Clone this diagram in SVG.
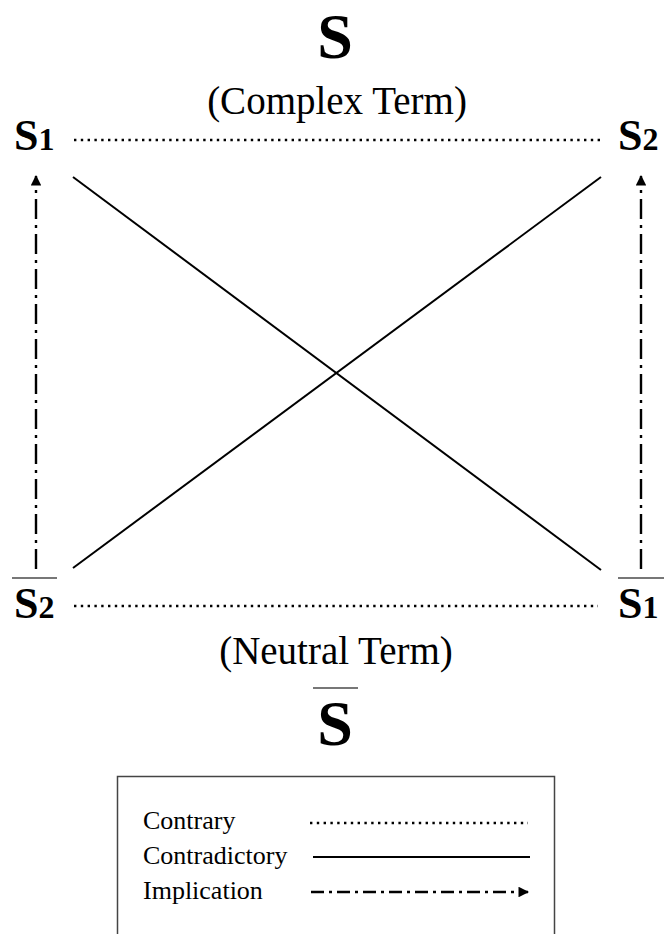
<svg xmlns="http://www.w3.org/2000/svg" width="664" height="934" viewBox="0 0 664 934">
<style>
  .big { font-family: "Liberation Serif", "Times New Roman", serif; font-weight: bold; fill: #000; }
  .term { font-family: "Liberation Serif", "Times New Roman", serif; font-size: 39px; fill: #000; }
  .leg { font-family: "Liberation Serif", "Times New Roman", serif; font-size: 26px; fill: #000; }
  .contrary { stroke: #000; stroke-width: 2.4; stroke-dasharray: 2.4 4.4; fill: none; }
  .contra { stroke: #000; stroke-width: 2; fill: none; }
  .impl { stroke: #000; stroke-width: 2.4; stroke-dasharray: 20 6 3 6; fill: none; }
  .implLeg { stroke: #000; stroke-width: 2.4; stroke-dasharray: 13 5 3 5; fill: none; }
  .bar { stroke: #777; stroke-width: 2; }
</style>
<defs>
  <marker id="arrow" viewBox="0 0 10 10" refX="9" refY="5" markerWidth="4.4" markerHeight="4.4" markerUnits="strokeWidth" orient="auto">
    <path d="M0,0 L10,5 L0,10 Z" fill="#000"/>
  </marker>
</defs>

<g id="node-S">
  <text class="big" x="335" y="58" font-size="64" text-anchor="middle">S</text>
  <text class="term" x="337" y="114" text-anchor="middle">(Complex Term)</text>
</g>
<g id="node-notS">
  <text class="term" x="336" y="664" text-anchor="middle">(Neutral Term)</text>
  <line class="bar" x1="313" y1="688" x2="358" y2="688"/>
  <text class="big" x="335" y="745" font-size="64" text-anchor="middle">S</text>
</g>
<g id="node-S1">
  <text class="big" x="14" y="150" font-size="44">S<tspan font-size="32">1</tspan></text>
</g>
<g id="node-S2">
  <text class="big" x="618" y="150" font-size="44">S<tspan font-size="32">2</tspan></text>
</g>
<g id="node-notS2">
  <line class="bar" x1="12" y1="578" x2="57" y2="578"/>
  <text class="big" x="14" y="618" font-size="44">S<tspan font-size="32">2</tspan></text>
</g>
<g id="node-notS1">
  <line class="bar" x1="618" y1="578" x2="664" y2="578"/>
  <text class="big" x="618" y="618" font-size="44">S<tspan font-size="32">1</tspan></text>
</g>

<g id="connectors">
  <line class="contrary" x1="74" y1="140" x2="602" y2="140"/>
  <line class="contrary" x1="74" y1="606" x2="598" y2="606"/>
  <line class="contra" x1="73" y1="177" x2="601" y2="570"/>
  <line class="contra" x1="601" y1="177" x2="73" y2="568"/>
  <line class="impl" x1="36" y1="569" x2="36" y2="176" marker-end="url(#arrow)"/>
  <line class="impl" x1="641" y1="569" x2="641" y2="176" marker-end="url(#arrow)"/>
</g>

<g id="legend">
  <path d="M117.5,934 V776.5 H554.5 V934" fill="none" stroke="#444" stroke-width="1.5"/>
  <text class="leg" x="143" y="829">Contrary</text>
  <text class="leg" x="143" y="864">Contradictory</text>
  <text class="leg" x="143" y="899">Implication</text>
  <line class="contrary" x1="310" y1="823" x2="528" y2="823"/>
  <line class="contra" x1="313" y1="857" x2="530" y2="857" stroke-width="2.5"/>
  <line class="implLeg" x1="311" y1="892" x2="528" y2="892" marker-end="url(#arrow)"/>
</g>
</svg>
